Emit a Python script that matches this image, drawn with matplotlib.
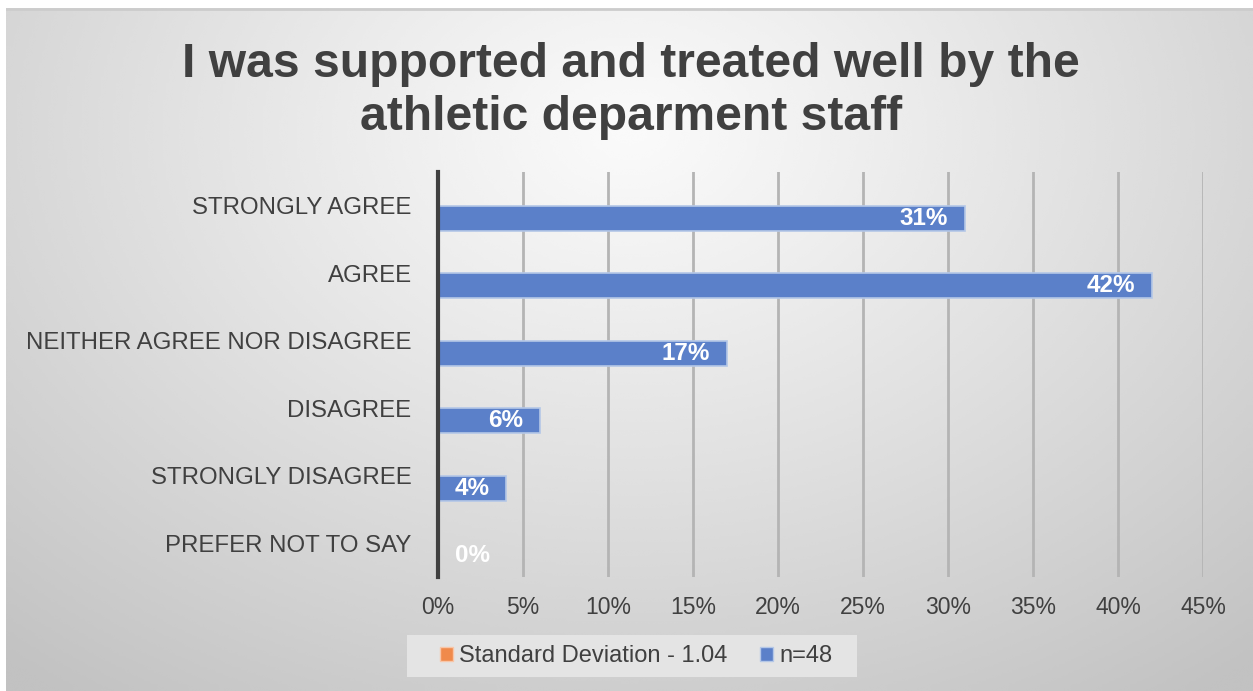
import numpy as np
import matplotlib
matplotlib.use("Agg")
import matplotlib.pyplot as plt
from matplotlib.patches import Patch, Rectangle

plt.rcParams['font.family'] = ['Liberation Sans', 'DejaVu Sans']

categories = ['STRONGLY AGREE', 'AGREE', 'NEITHER AGREE NOR DISAGREE',
              'DISAGREE', 'STRONGLY DISAGREE', 'PREFER NOT TO SAY']
n48 = [0.31, 0.42, 0.17, 0.06, 0.04, 0.00]
std_dev = [0, 0, 0, 0, 0, 0]
xticks = [0, 0.05, 0.10, 0.15, 0.20, 0.25, 0.30, 0.35, 0.40, 0.45]
title_lines = ['I was supported and treated well by the', 'athletic deparment staff']

W, H = 1253, 691
fig = plt.figure(figsize=(W / 100, H / 100), dpi=100)
fig.patch.set_facecolor('white')

# radial grey backdrop
bg = fig.add_axes([6 / W, 0, 1 - 6 / W, (H - 8) / H], zorder=-5)
gx, gy = np.meshgrid(np.linspace(0, 1, 400), np.linspace(0, 1, 240))
r = np.sqrt(((gx - 0.5) / 0.75) ** 2 + ((gy - 0.18) / 1.0) ** 2)
r = np.clip(r / 1.02, 0, 1)
shade = (250 - 56 * r ** 1.1) / 255
bg.imshow(shade, cmap='gray', vmin=0, vmax=1, aspect='auto',
          extent=[0, 1, 1, 0], interpolation='bicubic')
bg.plot([0, 1], [0.002, 0.002], color='#CCCCCC', lw=2)
bg.set_xlim(0, 1)
bg.set_ylim(1, 0)
bg.axis('off')

ax = fig.add_axes([438 / W, (H - 577) / H, 765 / W, 405 / H])
ax.set_facecolor('none')

y = np.arange(len(categories))
h = 0.37
ax.barh(y - h / 2, std_dev, height=h, color='#F08A4B', edgecolor='#F8C6A8', lw=1.0, zorder=3)
ax.barh(y + h / 2, n48, height=h, color='#5B80C9', edgecolor='#B4C7E7', lw=1.2, zorder=3)

for yi, v in zip(y, n48):
    label = '{:.0%}'.format(v)
    if v > 0:
        ax.annotate(label, (v, yi + h / 2), xytext=(-12, 0), textcoords='offset points',
                    ha='right', va='center', color='white', fontsize=17.5, fontweight='bold', zorder=4)
    else:
        ax.annotate(label, (v, yi + h / 2), xytext=(12, 0), textcoords='offset points',
                    ha='left', va='center', color='white', fontsize=17.5, fontweight='bold', zorder=4)

ax.set_xlim(0, 0.45)
ax.set_ylim(len(categories) - 0.5, -0.5)
ax.set_xticks(xticks)
ax.set_xticklabels(['{:.0%}'.format(t) for t in xticks])
ax.set_yticks(y)
ax.set_yticklabels(categories)
ax.tick_params(axis='both', length=0, colors='#404040', labelsize=16.5)
ax.tick_params(axis='x', pad=14)
ax.tick_params(axis='y', pad=19, labelsize=17.3)
ax.xaxis.grid(True, color='#B4B4B4', lw=2, zorder=0)
ax.set_axisbelow(True)
for side in ['top', 'right', 'bottom']:
    ax.spines[side].set_visible(False)
ax.spines['left'].set_color('#404040')
ax.spines['left'].set_linewidth(3)
ax.spines['left'].set_zorder(5)

fig.text(631 / W, (H - 77) / H, title_lines[0], ha='center', va='baseline',
         fontsize=34.6, fontweight='bold', color='#404040')
fig.text(631 / W, (H - 130) / H, title_lines[1], ha='center', va='baseline',
         fontsize=34.6, fontweight='bold', color='#404040')

# legend panel
fig.add_artist(Rectangle((407 / W, (H - 677) / H), 450 / W, 42 / H,
                         transform=fig.transFigure, facecolor='#E4E4E4',
                         edgecolor='none', zorder=1))
handles = [Patch(facecolor='#F08A4B', edgecolor='#F8C6A8', label='Standard Deviation - 1.04'),
           Patch(facecolor='#5B80C9', edgecolor='#B4C7E7', label='n=48')]
leg = fig.legend(handles=handles, loc='center', bbox_to_anchor=(636 / W, (H - 656) / H),
                 ncol=2, fontsize=17, frameon=False,
                 handlelength=0.55, handleheight=0.55, handletextpad=0.25,
                 columnspacing=1.4, borderpad=0.3)
leg.set_zorder(2)
for t in leg.get_texts():
    t.set_color('#404040')

fig.savefig('out.png', dpi=100)
